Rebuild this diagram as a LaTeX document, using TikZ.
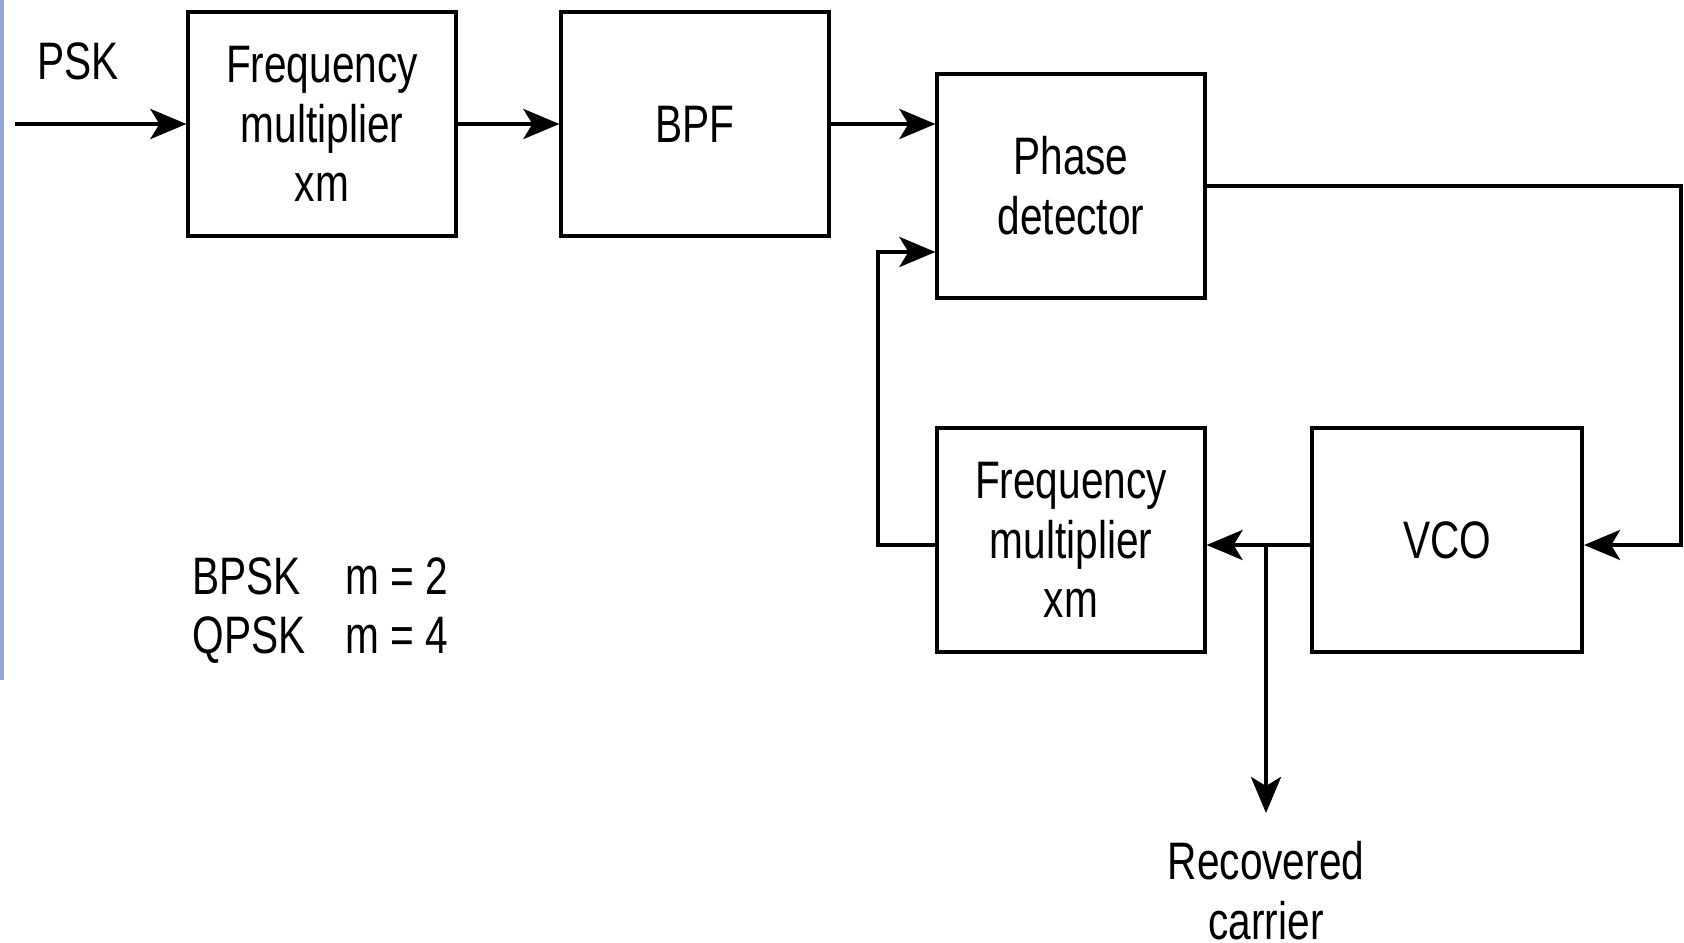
\documentclass[tikz,border=0pt]{standalone}
\usepackage{fontspec}
\setmainfont{Liberation Sans}[FakeStretch=0.77]
\usepackage{xcolor}
\usetikzlibrary{arrows.meta, positioning, calc}
\definecolor{sidebar}{RGB}{152,164,212}

\begin{document}
\begin{tikzpicture}[
  x=0.01cm, y=-0.01cm,
  every node/.style={font=\fontsize{15}{17}\selectfont},
  block/.style = {rectangle, draw=black, line width=0.04cm, minimum width=2.67cm, minimum height=2.24cm, inner sep=2pt, align=center},
  lbl/.style   = {inner sep=0pt, align=center},
  arrow/.style = {-{Stealth[length=3.6mm, width=3mm, inset=0.9mm]}, line width=0.04cm}
]
\useasboundingbox (0,0) rectangle (1684,943);
\fill[sidebar] (0,0) rectangle (4,680);

%% FORWARD PATH
\node[block] (fmA) at ( 322, 124) {Frequency\\multiplier\\xm};
\node[block] (bpf) at ( 695, 124) {BPF};
\node[block] (pd)  at (1071, 186) {Phase\\detector};

%% LOOP
\node[block] (fmB) at (1071, 540) {Frequency\\multiplier\\xm};
\node[block, minimum width=2.7cm] (vco) at (1447, 540) {VCO};

%% Labels
\node[lbl, anchor=base west] (psk) at (37, 80) {PSK};
\node[lbl, anchor=base west] (modes) at (192, 595)
  {\fontsize{15}{16.5}\selectfont\begin{tabular}[t]{@{}p{1.53cm}@{}l@{}}BPSK & m = 2\\ QPSK & m = 4\end{tabular}};
\node[lbl, anchor=north] (rec) at (1266, 841) {Recovered\\carrier};

\coordinate (in)    at (15, 124);
\coordinate (loopR) at (1681, 545);
\coordinate (fbL)   at (878, 545);
\coordinate (tap)   at (1266, 545);
\coordinate (recA)  at (1266, 813);

%% Arrows
\draw[arrow] (in) -- (fmA);
\draw[arrow] (fmA) -- (bpf);
\draw[arrow] (bpf.east) -- (bpf.east -| pd.west);
\draw[arrow] (pd.east) -| (loopR) -- (loopR -| vco.east);
\draw[arrow] (tap -| vco.west) -- (tap -| fmB.east);
\draw[arrow] (tap) -- (recA);
\draw[arrow] (fbL -| fmB.west) -- (fbL) |- ($(pd.west)+(0,66)$);
\end{tikzpicture}
\end{document}
